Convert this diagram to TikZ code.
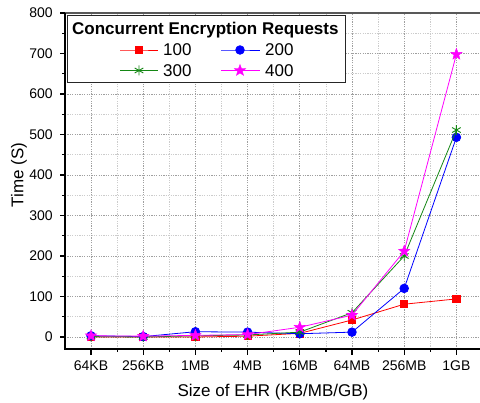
\documentclass[tikz,border=0pt]{standalone}
\usepackage{fontspec}
\setmainfont{Liberation Sans}
\usetikzlibrary{plotmarks}
\pgfdeclareplotmark{fstar}{%
  \pgfpathmoveto{\pgfpointpolar{90}{\pgfplotmarksize}}%
  \pgfpathlineto{\pgfpointpolar{126}{0.42\pgfplotmarksize}}%
  \pgfpathlineto{\pgfpointpolar{162}{\pgfplotmarksize}}%
  \pgfpathlineto{\pgfpointpolar{198}{0.42\pgfplotmarksize}}%
  \pgfpathlineto{\pgfpointpolar{234}{\pgfplotmarksize}}%
  \pgfpathlineto{\pgfpointpolar{270}{0.42\pgfplotmarksize}}%
  \pgfpathlineto{\pgfpointpolar{306}{\pgfplotmarksize}}%
  \pgfpathlineto{\pgfpointpolar{342}{0.42\pgfplotmarksize}}%
  \pgfpathlineto{\pgfpointpolar{18}{\pgfplotmarksize}}%
  \pgfpathlineto{\pgfpointpolar{54}{0.42\pgfplotmarksize}}%
  \pgfpathclose\pgfusepathqfillstroke}
\definecolor{cred}{RGB}{255,0,0}
\definecolor{cblue}{RGB}{0,0,255}
\definecolor{cgreen}{RGB}{20,135,20}
\definecolor{cmag}{RGB}{255,0,255}
\tikzset{
  s100/.style={cred, line width=0.8pt, mark=square*, mark size=3.6pt, mark options={solid, fill=cred, draw=cred}},
  s200/.style={cblue, line width=0.8pt, mark=*, mark size=4.3pt, mark options={solid, fill=cblue, draw=cblue}},
  s300/.style={cgreen, line width=0.8pt, mark=asterisk, mark size=5pt, mark options={solid, draw=cgreen, line width=0.9pt}},
  s400/.style={cmag, line width=0.8pt, mark=fstar, mark size=6pt, mark options={solid, fill=cmag, draw=cmag, line width=0.4pt}},
  majgrid/.style={gray!75, line width=0.7pt, dash pattern=on 1.2pt off 1.2pt},
  mingrid/.style={gray!40, line width=0.7pt, dash pattern=on 1.2pt off 1.2pt},
  ticklab/.style={inner sep=0pt, font=\fontsize{14}{16}\selectfont},
  biglab/.style={inner sep=0pt, font=\fontsize{17}{20}\selectfont},
  axisline/.style={black, line width=1.6pt},
}
\begin{document}
\begin{tikzpicture}[x=1pt,y=1pt]
\useasboundingbox[fill=white] (0,0) rectangle (480,403);
\begin{scope}[x=52.2pt, y=0.405pt, shift={(91pt,66pt)}]
  % grid
  \foreach \v in {50,150,...,750} \draw[mingrid] (-0.5,\v) -- (7.5,\v);
  \foreach \v in {0,100,...,700} \draw[majgrid] (-0.5,\v) -- (7.5,\v);
  \foreach \i in {0.5,1.5,...,6.5} \draw[mingrid] (\i,-29.6) -- (\i,800);
  \foreach \i in {0,...,7} \draw[majgrid] (\i,-29.6) -- (\i,800);
  % axes
  \draw[gray!70!black, line width=1.3pt] (-0.5,800) -- (7.6,800);
  \draw[axisline] (-0.5,800) -- (-0.5,-29.6) -- (7.6,-29.6);
  \foreach \v in {0,100,...,800} {
    \draw[axisline, line width=1.2pt] (-0.5,\v) -- ++(-5pt,0);
    \node[ticklab, anchor=east] (yl\v) at ([xshift=-12pt]-0.5,\v) {\v};
  }
  \foreach \v in {50,150,...,750} \draw[axisline, line width=1.2pt] (-0.5,\v) -- ++(-2.8pt,0);
  \foreach \i/\t in {0/64KB,1/256KB,2/1MB,3/4MB,4/16MB,5/64MB,6/256MB,7/1GB} {
    \draw[axisline, line width=1.2pt] (\i,-29.6) -- ++(0,-6pt);
    \node[ticklab, anchor=north] (xl\i) at ([yshift=-11.5pt]\i,-29.6) {\t};
  }
  \foreach \i in {0.5,1.5,...,6.5} \draw[axisline, line width=1.2pt] (\i,-29.6) -- ++(0,-3pt);
  % data
  \draw[s100] plot coordinates {(0,0) (1,0) (2,0) (3,2) (4,9) (5,42) (6,81) (7,94)};
  \draw[s200] plot coordinates {(0,3) (1,1) (2,13) (3,12) (4,8) (5,12) (6,120) (7,493)};
  \draw[s300] plot coordinates {(0,1) (1,0) (2,3) (3,5) (4,12) (5,60) (6,200) (7,511)};
  \draw[s400] plot coordinates {(0,3) (1,2) (2,4) (3,6) (4,24) (5,54) (6,212) (7,698)};
\end{scope}
% axis titles
\node[biglab, rotate=90] (ytitle) at (19,228) {Time (S)};
\node[biglab, anchor=base] (xtitle) at (273,6) {Size of EHR (KB/MB/GB)};
% legend
\draw[fill=white, draw=black!85, line width=1.5pt] (67.5,320.5) rectangle (345.5,387.5);
\node[biglab, anchor=base west, font=\fontsize{17}{20}\selectfont\bfseries] (legtitle) at (72,368) {Concurrent Encryption Requests};
\draw[s100, mark indices={2}] plot coordinates {(120,353) (139,353) (158,353)};
\node[biglab, anchor=base west] (leg100) at (163,347) {100};
\draw[s200, mark indices={2}] plot coordinates {(221,353) (240,353) (260,353)};
\node[biglab, anchor=base west] (leg200) at (265,347) {200};
\draw[s300, mark indices={2}] plot coordinates {(120,332.5) (139,332.5) (158,332.5)};
\node[biglab, anchor=base west] (leg300) at (163,326.3) {300};
\draw[s400, mark indices={2}] plot coordinates {(221,332.5) (240,332.5) (260,332.5)};
\node[biglab, anchor=base west] (leg400) at (265,326.3) {400};
\end{tikzpicture}
\end{document}
